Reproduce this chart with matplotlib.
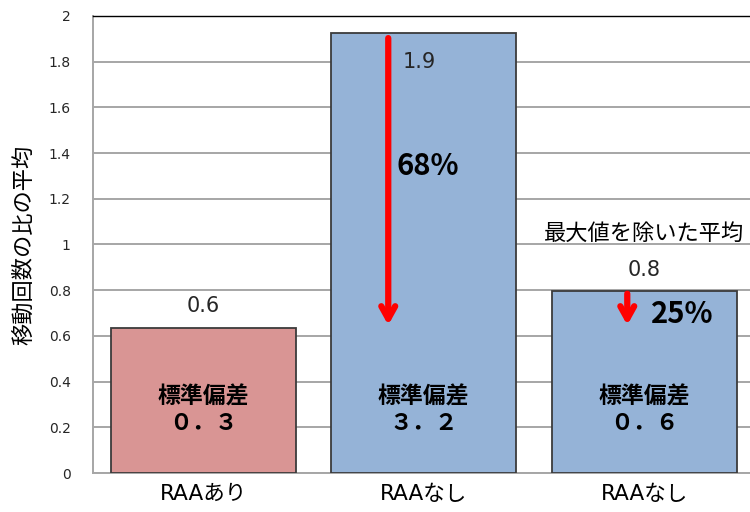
import matplotlib
matplotlib.use('Agg')
import matplotlib.pyplot as plt

# DejaVu for latin glyphs (wide, like the original), CJK font as fallback
plt.rcParams['font.family'] = ['DejaVu Sans', 'Noto Sans CJK JP']

categories = ['RAAあり', 'RAAなし', 'RAAなし']
values = [0.635, 1.925, 0.797]
value_labels = ['0.6', '1.9', '0.8']
std_labels = ['標準偏差\n０．３', '標準偏差\n３．２', '標準偏差\n０．６']
bar_colors = ['#D99594', '#95B3D7', '#95B3D7']
yticks = [0, 0.2, 0.4, 0.6, 0.8, 1, 1.2, 1.4, 1.6, 1.8, 2]
reductions = ['68%', '25%']

fig = plt.figure(figsize=(7.5, 5.12), dpi=100)
ax = fig.add_axes([0.124, 0.076, 0.882, 0.893])

x = list(range(len(categories)))
ax.bar(x, values, width=0.84, color=bar_colors, edgecolor='#3B3B3B', linewidth=1.3, zorder=3)

ax.set_xlim(-0.5, 2.5)
ax.set_ylim(0, 2)
ax.set_yticks(yticks)
ax.set_yticklabels([f'{t:g}' for t in yticks], fontsize=10, color='#262626')
ax.set_xticks(x)
ax.set_xticklabels(categories, fontsize=15.5)
ax.tick_params(axis='y', length=0, pad=16)
ax.tick_params(axis='x', length=0, pad=8)
ax.grid(axis='y', color='#A6A6A6', linewidth=1.4, zorder=0)
ax.spines['left'].set_color('#A6A6A6')
ax.spines['left'].set_linewidth(1.4)
ax.spines['bottom'].set_color('#A6A6A6')
ax.spines['bottom'].set_linewidth(1.4)
ax.spines['right'].set_visible(False)
ax.spines['top'].set_color('black')
ax.spines['top'].set_linewidth(1)
ax.set_ylabel('移動回数の比の平均', fontsize=16, labelpad=10,
              family=['Noto Sans CJK JP', 'DejaVu Sans'])

# value labels
ax.text(0, 0.73, value_labels[0], ha='center', va='center', fontsize=15, color='#262626')
ax.text(1 - 0.02, 1.80, value_labels[1], ha='center', va='center', fontsize=15, color='#262626')
ax.text(2, 0.888, value_labels[2], ha='center', va='center', fontsize=15, color='#262626')
ax.text(2.0, 1.05, '最大値を除いた平均', ha='center', va='center', fontsize=16,
        color='black', family=['Noto Sans CJK JP', 'DejaVu Sans'])

# std labels
for i, s in enumerate(std_labels):
    ax.text(i, 0.276, s, ha='center', va='center', fontsize=16.5, fontweight='bold',
            linespacing=1.2, family=['Noto Sans CJK JP', 'DejaVu Sans'])

# reduction arrows
ax.annotate('', xy=(1 - 0.161, values[0]), xytext=(1 - 0.161, values[1] - 0.01),
            arrowprops=dict(arrowstyle='->, head_length=0.9, head_width=0.5', color='red', lw=4.5),
            zorder=4)
ax.annotate('', xy=(2 - 0.077, values[0]), xytext=(2 - 0.077, values[2]),
            arrowprops=dict(arrowstyle='->, head_length=0.9, head_width=0.5', color='red', lw=4.5),
            zorder=4)
ax.text(1 + 0.02, 1.343, reductions[0], ha='center', va='center', fontsize=21, fontweight='bold',
        family=['Noto Sans CJK JP', 'DejaVu Sans'])
ax.text(2 + 0.17, 0.696, reductions[1], ha='center', va='center', fontsize=21, fontweight='bold',
        family=['Noto Sans CJK JP', 'DejaVu Sans'])

fig.savefig('out.png', dpi=100)
